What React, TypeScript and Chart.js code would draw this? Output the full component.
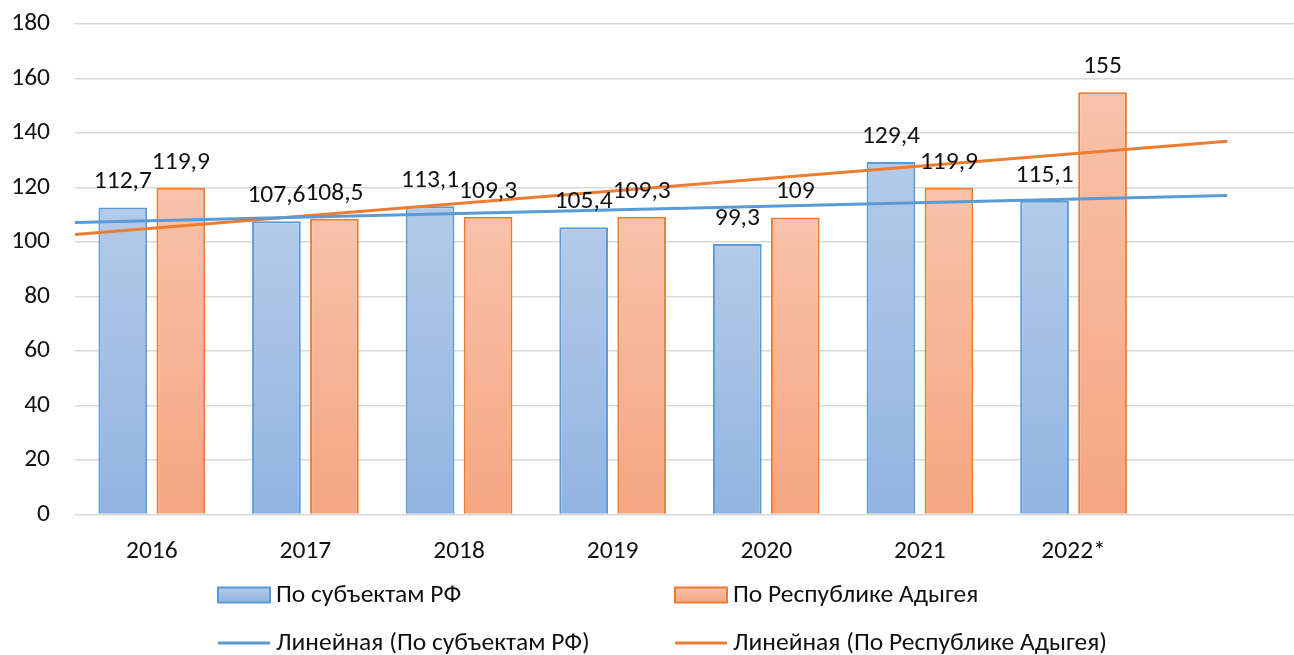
import { useEffect, useRef } from 'react';
import { Chart, registerables } from 'chart.js';

Chart.register(...registerables);

// ---- data ----
const years = ['2016', '2017', '2018', '2019', '2020', '2021', '2022*', ''];
const rfValues = [112.7, 107.6, 113.1, 105.4, 99.3, 129.4, 115.1];
const adygeaValues = [119.9, 108.5, 109.3, 109.3, 109, 119.9, 155];
const yTickValues = [0, 20, 40, 60, 80, 100, 120, 140, 160, 180];
const seriesNames = ['По субъектам РФ', 'По Республике Адыгея'];
const trendNames = ['Линейная (По субъектам РФ)', 'Линейная (По Республике Адыгея)'];
const trendBackward = 0.5;
const trendForward = 1;

const FONT = 'Carlito, Calibri, Lato, "Open Sans", sans-serif';
const FONT_SIZE = 25.5;
const TEXT = '#111111';
const BLUE = '#5b9bd5';
const ORANGE = '#ed7d31';
const BLUE_TOP = '#b3cae9';
const BLUE_BOTTOM = '#92b4e1';
const ORANGE_TOP = '#f8c2aa';
const ORANGE_BOTTOM = '#f5a682';

const CANVAS_W = 1310;
const CANVAS_H = 655;
const PLOT_TOP = 24;
const PLOT_BOTTOM = 514.5;
const PLOT_RIGHT = 1304;
const X_AXIS_H = 60;

function fmt(v: number): string {
  return String(v).replace('.', ',');
}

function linearFit(vals: number[]) {
  const n = vals.length;
  const xm = (n - 1) / 2;
  const ym = vals.reduce((a, b) => a + b, 0) / n;
  let num = 0;
  let den = 0;
  vals.forEach((v, i) => {
    num += (i - xm) * (v - ym);
    den += (i - xm) * (i - xm);
  });
  const slope = num / den;
  return (x: number) => ym + slope * (x - xm);
}

function trendPoints(vals: number[]) {
  const f = linearFit(vals);
  const x0 = -trendBackward;
  const x1 = vals.length - 1 + trendForward;
  return [
    { x: x0, y: f(x0) },
    { x: x1, y: f(x1) },
  ];
}

function gradientFill(top: string, bottom: string, fallback: string) {
  return (ctx: any) => {
    const chart = ctx.chart;
    if (!chart.chartArea || !ctx.raw || typeof ctx.raw.y !== 'number') return fallback;
    const ys = chart.scales.y;
    const t = ys.getPixelForValue(ctx.raw.y);
    const b = ys.getPixelForValue(0);
    const g = chart.ctx.createLinearGradient(0, t, 0, b);
    g.addColorStop(0, top);
    g.addColorStop(1, bottom);
    return g;
  };
}

// pin the plot area's top edge after Chart.js lays out the boxes
const plotTopPlugin = {
  id: 'plotTop',
  afterLayout(chart: any) {
    const ca = chart.chartArea;
    ca.top = PLOT_TOP;
    ca.height = ca.bottom - PLOT_TOP;
    const ys = chart.scales.y;
    ys.top = PLOT_TOP;
    ys.height = ys.bottom - PLOT_TOP;
    ys.configure();
  },
};

const labelPlugin = {
  id: 'valueLabels',
  afterDatasetsDraw(chart: any) {
    const ctx = chart.ctx;
    ctx.save();
    ctx.font = `${FONT_SIZE}px ${FONT}`;
    ctx.fillStyle = TEXT;
    ctx.textAlign = 'center';
    ctx.textBaseline = 'alphabetic';
    [0, 1].forEach((di) => {
      const meta = chart.getDatasetMeta(di);
      const vals = di === 0 ? rfValues : adygeaValues;
      meta.data.forEach((bar: any, j: number) => {
        ctx.fillText(fmt(vals[j]), bar.x, bar.y - 19);
      });
    });
    ctx.restore();
  },
};

const legendPlugin = {
  id: 'customLegend',
  afterDraw(chart: any) {
    const ctx = chart.ctx;
    ctx.save();
    ctx.font = `${FONT_SIZE}px ${FONT}`;
    ctx.fillStyle = TEXT;
    ctx.textAlign = 'left';
    ctx.textBaseline = 'middle';
    const cols = [218, 675];
    const boxW = 52;
    const row1 = 595;
    const row2 = 643;
    const tops = [BLUE_TOP, ORANGE_TOP];
    const bottoms = [BLUE_BOTTOM, ORANGE_BOTTOM];
    const borders = [BLUE, ORANGE];
    cols.forEach((x, i) => {
      const g = ctx.createLinearGradient(0, row1 - 7.5, 0, row1 + 7.5);
      g.addColorStop(0, tops[i]);
      g.addColorStop(1, bottoms[i]);
      ctx.fillStyle = g;
      ctx.fillRect(x, row1 - 7.5, boxW, 15);
      ctx.strokeStyle = borders[i];
      ctx.lineWidth = 2;
      ctx.strokeRect(x, row1 - 7.5, boxW, 15);
      ctx.fillStyle = TEXT;
      ctx.fillText(seriesNames[i], x + boxW + 6, row1 + 1);

      ctx.beginPath();
      ctx.moveTo(x, row2);
      ctx.lineTo(x + boxW, row2);
      ctx.strokeStyle = borders[i];
      ctx.lineWidth = 3;
      ctx.stroke();
      ctx.fillText(trendNames[i], x + boxW + 6, row2 + 1);
    });
    ctx.restore();
  },
};

export default function App() {
  const ref = useRef<HTMLCanvasElement>(null);

  useEffect(() => {
    const canvas = ref.current;
    if (!canvas) return;
    const chart = new Chart(canvas, {
      type: 'bar',
      data: {
        datasets: [
          {
            type: 'bar',
            label: seriesNames[0],
            data: rfValues.map((v, i) => ({ x: i, y: v })),
            backgroundColor: gradientFill(BLUE_TOP, BLUE_BOTTOM, BLUE_TOP),
            borderColor: BLUE,
            borderWidth: 2,
            categoryPercentage: 0.755,
            barPercentage: 0.84,
            order: 2,
          } as any,
          {
            type: 'bar',
            label: seriesNames[1],
            data: adygeaValues.map((v, i) => ({ x: i, y: v })),
            backgroundColor: gradientFill(ORANGE_TOP, ORANGE_BOTTOM, ORANGE_TOP),
            borderColor: ORANGE,
            borderWidth: 2,
            categoryPercentage: 0.755,
            barPercentage: 0.84,
            order: 2,
          } as any,
          {
            type: 'line',
            label: trendNames[0],
            data: trendPoints(rfValues),
            borderColor: BLUE,
            borderWidth: 3,
            pointRadius: 0,
            fill: false,
            order: 0,
          } as any,
          {
            type: 'line',
            label: trendNames[1],
            data: trendPoints(adygeaValues),
            borderColor: ORANGE,
            borderWidth: 3,
            pointRadius: 0,
            fill: false,
            order: 0,
          } as any,
        ],
      },
      options: {
        animation: false,
        responsive: false,
        maintainAspectRatio: false,
        layout: {
          autoPadding: false,
          padding: { left: 0, top: PLOT_TOP, right: CANVAS_W - PLOT_RIGHT, bottom: CANVAS_H - PLOT_BOTTOM - X_AXIS_H },
        },
        plugins: {
          legend: { display: false },
          tooltip: { enabled: false },
        },
        scales: {
          x: {
            type: 'linear',
            offset: false,
            min: -0.5,
            max: years.length - 0.5,
            grid: { display: false, drawTicks: false },
            border: { display: false },
            afterBuildTicks: (s: any) => {
              s.ticks = years.map((_, i) => ({ value: i }));
            },
            afterFit: (s: any) => {
              s.height = X_AXIS_H;
            },
            ticks: {
              autoSkip: false,
              maxRotation: 0,
              padding: 22,
              color: TEXT,
              font: { family: FONT, size: FONT_SIZE },
              callback: (v: any) => years[v] ?? '',
            },
          },
          y: {
            min: 0,
            max: 180,
            grid: { color: '#d9d9d9', lineWidth: 1.5, drawTicks: false },
            border: { display: false },
            afterBuildTicks: (s: any) => {
              s.ticks = yTickValues.map((v) => ({ value: v }));
            },
            afterFit: (s: any) => {
              s.width = 75;
            },
            ticks: {
              padding: 25,
              color: TEXT,
              font: { family: FONT, size: FONT_SIZE },
            },
          },
        },
      } as any,
      plugins: [plotTopPlugin, labelPlugin, legendPlugin],
    });
    return () => chart.destroy();
  }, []);

  return (
    <div style={{ position: 'fixed', left: 0, top: 0, width: 1294, height: 655, overflow: 'hidden', background: '#fff' }}>
      <canvas ref={ref} width={CANVAS_W} height={CANVAS_H} style={{ display: 'block', width: CANVAS_W, height: CANVAS_H }} />
    </div>
  );
}
